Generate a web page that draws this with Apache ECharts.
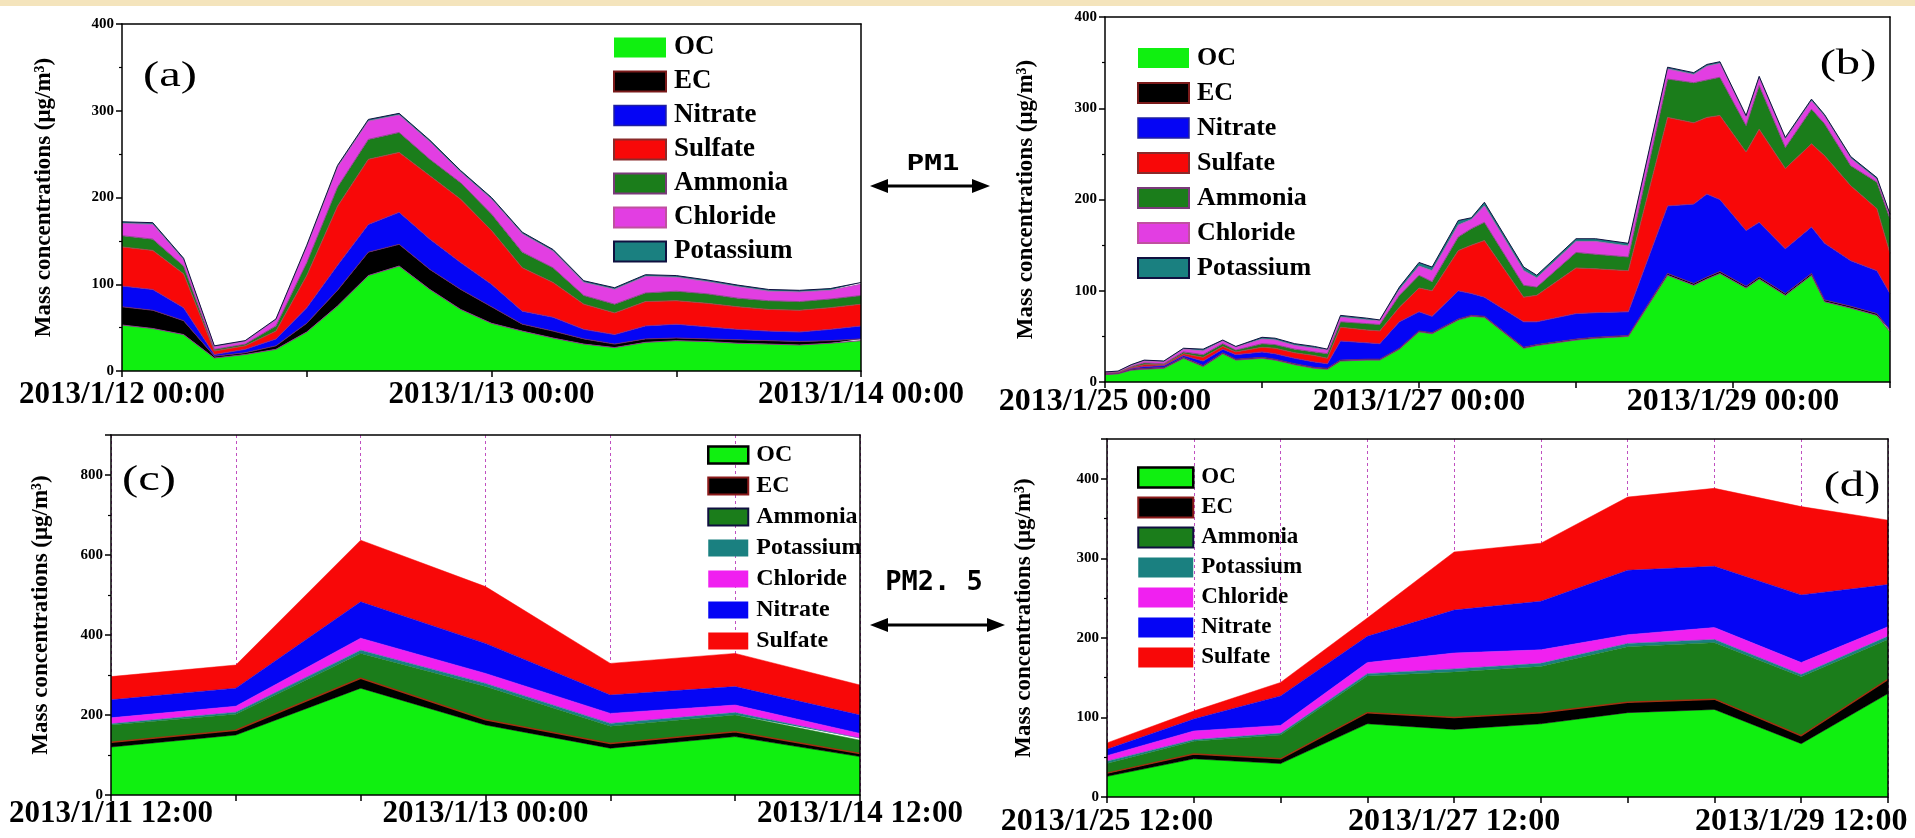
<!DOCTYPE html>
<html><head><meta charset="utf-8">
<script src="https://cdn.jsdelivr.net/npm/echarts/dist/echarts.min.js"></script>
<style>html,body{margin:0;padding:0;background:#fff}#c{width:1915px;height:838px}</style>
</head><body><div id="c"></div><script>
// ---------- DATA ----------
const namesPM1  = ['OC','EC','Nitrate','Sulfate','Ammonia','Chloride','Potassium'];
const namesPM25 = ['OC','EC','Ammonia','Potassium','Chloride','Nitrate','Sulfate'];

// (a) PM1, 2013/1/12 00:00 - 2013/1/14 00:00, hours from start
const hoursA = [0,2,4,6,8,10,12,14,16,18,20,22,24,26,28,30,32,34,36,38,40,42,44,46,48];
const a_OC        = [53,49,42,15,19,25,45,75,110,121,94,71,55,46,38,31,27,33,35,34,32,31,30,32,35];
const a_EC        = [21,21,16,2,2,4,10,18,27,25,23,23,19,8,8,6,4,4,3,3,4,4,4,3,2];
const a_Nitrate   = [24,24,15,2,4,8,18,29,32,37,35,31,26,15,16,11,11,15,16,14,12,11,11,13,15];
const a_Sulfate   = [45,45,39,4,4,9,37,68,75,69,73,73,62,50,40,29,25,28,27,27,26,25,25,25,25];
const a_Ammonia   = [13,13,9,2,2,6,15,22,23,23,19,19,19,18,17,10,10,10,11,11,10,10,10,10,10];
const a_Chloride  = [14,17,7,3,3,7,18,23,21,20,20,12,17,21,19,15,17,19,16,14,13,11,11,10,13];
const a_Potassium = [2,2,2,1,1,1,2,2,2,2,2,2,2,2,2,2,2,2,2,2,2,2,2,2,2];
const xTickLabelsA = ['2013/1/12 00:00','','2013/1/13 00:00','','2013/1/14 00:00']; // every 12 h

// (b) PM1, 2013/1/25 00:00 - 2013/1/30 00:00, hours from start
const hoursB = [0,2,4,6,9,12,15,18,20,24,26,29,32,34,36,40,42,45,48,50,54,56,58,64,66,72,75,80,86,90,92,94,98,100,104,108,110,114,118,120];
const b_OC        = [8,9,13,14,15,26,17,31,24,26,24,19,15,14,23,24,24,36,55,53,68,72,71,37,40,46,48,50,117,106,113,119,103,113,95,117,88,81,73,55];
const b_EC        = [1,0.5,1,1,1,1,1,1,1,1,1,1,1,1,1,1,1,1,1,1,1,1,1,1,1,1,1,1,2,2,2,2,2,2,2,2,2,2,2,2];
const b_Nitrate   = [0.5,0.5,1,2,2,2,5,4,5,6,6,6,6,5,21,18,17,29,21,18,31,24,21,28,25,28,27,26,74,87,91,79,61,60,49,51,62,50,47,40];
const b_Sulfate   = [0.5,0.5,1,2,1,2,4,3,3,5,6,6,7,6,15,14,14,16,26,28,44,53,62,27,29,50,48,45,97,89,84,92,86,102,88,91,96,82,68,44];
const b_Ammonia   = [0.5,0.5,1,2,1,2,3,3,2,4,4,4,4,5,6,7,7,13,14,10,15,18,20,13,9,17,16,15,42,44,41,42,29,48,23,38,35,22,29,38];
const b_Chloride  = [0.5,0.5,1,2,2,3,4,3,3,5,5,4,4,4,5,4,4,6,10,12,13,10,18,16,10,12,14,12,11,9,15,15,9,8,9,9,8,8,3,4];
const b_Potassium = [0,0.5,1,1,1,1,2,1,1,2,2,2,2,1,2,2,1,3,4,4,5,2,4,4,3,3,3,3,2,2,2,2,2,2,2,2,2,2,2,1];
const xTickLabelsB = ['2013/1/25 00:00','','2013/1/27 00:00','','2013/1/29 00:00','']; // every 24 h

// (c) PM2.5, 12-hourly
const timesC = ['2013/1/11 12:00','2013/1/12 00:00','2013/1/12 12:00','2013/1/13 00:00','2013/1/13 12:00','2013/1/14 00:00','2013/1/14 12:00'];
const c_OC        = [120,150,267,175,117,146,96];
const c_EC        = [12,12,25,13,12,12,8];
const c_Ammonia   = [43,40,62,83,43,42,33];
const c_Potassium = [3,5,8,8,7,6,5];
const c_Chloride  = [15,15,30,25,25,19,12];
const c_Nitrate   = [45,45,91,75,46,46,46];
const c_Sulfate   = [58,58,154,142,79,83,75];
const xTickLabelsC = ['2013/1/11 12:00','','','2013/1/13 00:00','','','2013/1/14 12:00'];

// (d) PM2.5, 12-hourly
const timesD = ['2013/1/25 12:00','2013/1/26 00:00','2013/1/26 12:00','2013/1/27 00:00','2013/1/27 12:00','2013/1/28 00:00','2013/1/28 12:00','2013/1/29 00:00','2013/1/29 12:00','2013/1/30 00:00'];
const d_OC        = [26,48,42,92,85,92,106,110,67,130];
const d_EC        = [4,6,6,14,15,14,13,13,10,18];
const d_Ammonia   = [12,16,30,46,57,58,70,71,74,50];
const d_Potassium = [3,2,2,3,4,4,4,4,3,4];
const d_Chloride  = [7,11,10,14,20,17,11,15,15,12];
const d_Nitrate   = [8,15,37,33,54,61,81,77,85,53];
const d_Sulfate   = [8,10,17,23,73,73,92,98,111,81];
const xTickLabelsD = ['2013/1/25 12:00','','','','2013/1/27 12:00','','','','2013/1/29 12:00',''];

const yTitle = 'Mass concentrations (μg/m³)';

// ---------- STYLE ----------
const FONT = 'Liberation Serif';
const HOUR = 3600000;
const T0A = Date.UTC(2013,0,12,0,0);
const T0B = Date.UTC(2013,0,25,0,0);
const FILL = {OC:'#10f010', EC:'#000000', Nitrate:'#0505f5', Sulfate:'#f80808', Ammonia:'#1b7d1b', Chloride:'#f020f0', Potassium:'#1a8080'};
const FILL_AB = Object.assign({}, FILL, {Chloride:'#e23ee2'});
const EDGE_AB = {OC:'#8a3a8a', EC:'#6a2a6a', Nitrate:'#8a2a8a', Sulfate:'#a04a4a', Ammonia:'#8a4a8a', Chloride:'#b860b8', Potassium:'#101040'};
const EDGE_CD = {OC:'#000000', EC:'#a03010', Ammonia:'#1b7d1b', Potassium:'#1a8080', Chloride:'#f020f0', Nitrate:'#0505f5', Sulfate:'#f80808'};
const LEG_AB = {OC:['#10f010',0], EC:['#7a1a1a',2], Nitrate:['#2020a0',1.5], Sulfate:['#8a2a2a',2], Ammonia:['#7a3a7a',2], Chloride:['#c050a0',2], Potassium:['#101040',2]};
const LEG_CD = {OC:['#000000',2.5], EC:['#8a1a1a',2], Ammonia:['#101040',2], Potassium:['#1a8080',0], Chloride:['#f020f0',0], Nitrate:['#0505f5',0], Sulfate:['#f80808',0]};
const AX = {color:'#000', width:1.5};

function areaSeries(name, values, g, hours, t0, fills, edge, ew) {
  return {type:'line', name, xAxisIndex:g, yAxisIndex:g, stack:'s'+g,
    data: hours ? values.map((v,i)=>[t0 + hours[i]*HOUR, v]) : values,
    symbol:'none', showSymbol:false, smooth:false, silent:true,
    lineStyle:{color:edge, width:ew}, areaStyle:{color:fills[name], opacity:1},
    itemStyle:{color:fills[name]}, emphasis:{disabled:true}, z:2};
}
function xTimeHidden(g, t0, hours) {
  return {gridIndex:g, type:'time', position:'bottom', min:t0, max:t0 + hours*HOUR, show:false,
    axisLine:{show:false}, axisTick:{show:false}, axisLabel:{show:false}, splitLine:{show:false}};
}
function xLabelValue(g, max, interval, labels, fs, margin) {
  return {gridIndex:g, type:'value', position:'bottom', min:0, max, interval, z:10,
    axisLine:{show:true, onZero:false, lineStyle:AX}, axisTick:{show:true, length:6, lineStyle:AX},
    splitLine:{show:false},
    axisLabel:{show:true, margin, color:'#000', fontFamily:FONT, fontWeight:'bold', fontSize:fs,
      showMinLabel:true, showMaxLabel:true, formatter: v => labels[Math.round(v/interval)] || ''}};
}
function xMainCat(g, cats, labels, fs, margin) {
  return {gridIndex:g, type:'category', position:'bottom', data:cats, boundaryGap:false, z:10,
    axisLine:{show:true, onZero:false, lineStyle:AX}, axisTick:{show:true, length:6, interval:0, lineStyle:AX},
    splitLine:{show:false},
    axisLabel:{show:true, interval:0, margin, color:'#000', fontFamily:FONT, fontWeight:'bold', fontSize:fs,
      formatter:(v,i)=>labels[i]}};
}
function xTopValue(g, max) {
  return {gridIndex:g, type:'value', position:'top', min:0, max, z:10,
    axisLine:{show:true, onZero:false, lineStyle:AX}, axisTick:{show:false}, axisLabel:{show:false}, splitLine:{show:false}};
}
function xTopCat(g, cats) {
  return {gridIndex:g, type:'category', position:'top', data:cats, boundaryGap:false, z:1,
    axisLine:{show:true, onZero:false, lineStyle:AX}, axisTick:{show:false}, axisLabel:{show:false},
    splitLine:{show:true, interval:0, lineStyle:{color:'#c050c0', type:[3,3], width:1}}};
}
function yMain(g, max, interval, labelMax, nameGap) {
  return {gridIndex:g, type:'value', position:'left', min:0, max, interval, z:10,
    axisLine:{show:true, onZero:false, lineStyle:AX}, axisTick:{show:true, length:6, lineStyle:AX},
    minorTick:{show:true, splitNumber:2, length:3, lineStyle:{color:'#000', width:1.2}},
    splitLine:{show:false}, minorSplitLine:{show:false},
    axisLabel:{margin:8, color:'#000', fontFamily:FONT, fontWeight:'bold', fontSize:15,
      formatter: v => v > labelMax ? '' : String(v)},
    name: yTitle, nameLocation:'middle', nameGap,
    nameTextStyle:{fontFamily:FONT, fontWeight:'bold', fontSize:23, color:'#000'}};
}
function yRight(g, max) {
  return {gridIndex:g, type:'value', position:'right', min:0, max, z:10,
    axisLine:{show:true, onZero:false, lineStyle:AX}, axisTick:{show:false}, axisLabel:{show:false}, splitLine:{show:false}};
}
function legendCfg(left, top, names, iw, ih, gap, fs, fills, styles) {
  return {orient:'vertical', left, top, padding:0, itemWidth:iw, itemHeight:ih, itemGap:gap, icon:'rect',
    selectedMode:false, z:20,
    textStyle:{fontFamily:FONT, fontWeight:'bold', fontSize:fs, color:'#000', padding:[0,0,0,3]},
    data: names.map(n => ({name:n, icon:'rect', itemStyle:{color:fills[n], borderColor:styles[n][0], borderWidth:styles[n][1]}}))};
}

const valsA = {OC:a_OC, EC:a_EC, Nitrate:a_Nitrate, Sulfate:a_Sulfate, Ammonia:a_Ammonia, Chloride:a_Chloride, Potassium:a_Potassium};
const valsB = {OC:b_OC, EC:b_EC, Nitrate:b_Nitrate, Sulfate:b_Sulfate, Ammonia:b_Ammonia, Chloride:b_Chloride, Potassium:b_Potassium};
const valsC = {OC:c_OC, EC:c_EC, Ammonia:c_Ammonia, Potassium:c_Potassium, Chloride:c_Chloride, Nitrate:c_Nitrate, Sulfate:c_Sulfate};
const valsD = {OC:d_OC, EC:d_EC, Ammonia:d_Ammonia, Potassium:d_Potassium, Chloride:d_Chloride, Nitrate:d_Nitrate, Sulfate:d_Sulfate};

const series = [];
namesPM1.forEach(n => series.push(areaSeries(n, valsA[n], 0, hoursA, T0A, FILL_AB, EDGE_AB[n], 1)));
namesPM1.forEach(n => series.push(areaSeries(n, valsB[n], 1, hoursB, T0B, FILL_AB, EDGE_AB[n], 1)));
namesPM25.forEach(n => series.push(areaSeries(n, valsC[n], 2, null, 0, FILL, EDGE_CD[n], n==='EC'?1.5:0.5)));
namesPM25.forEach(n => series.push(areaSeries(n, valsD[n], 3, null, 0, FILL, EDGE_CD[n], n==='EC'?1.5:0.5)));

function txt(x, y, text, font, sx) {
  return {type:'text', x, y, scaleX:sx||1, z:100, silent:true,
    style:{text, font, fill:'#000', align:'center', verticalAlign:'middle', textAlign:'center', textVerticalAlign:'middle'}};
}
function arrow(x1, x2, y) {
  return [
    {type:'line', z:100, silent:true, shape:{x1:x1+14, y1:y, x2:x2-14, y2:y}, style:{stroke:'#000', lineWidth:3}},
    {type:'polygon', z:100, silent:true, shape:{points:[[x1,y],[x1+18,y-7],[x1+18,y+7]]}, style:{fill:'#000'}},
    {type:'polygon', z:100, silent:true, shape:{points:[[x2,y],[x2-18,y-7],[x2-18,y+7]]}, style:{fill:'#000'}}
  ];
}

const option = {
  animation:false,
  backgroundColor:'#ffffff',
  grid:[
    {left:122, top:24, width:739, height:347},
    {left:1105, top:17, width:785, height:365},
    {left:111, top:435, width:749, height:360},
    {left:1107, top:439, width:781, height:359}
  ],
  xAxis:[
    xTimeHidden(0, T0A, 48),
    xTimeHidden(1, T0B, 120),
    xMainCat(2, timesC, xTickLabelsC, 31, 3),
    xMainCat(3, timesD, xTickLabelsD, 32, 9),
    xLabelValue(0, 48, 12, xTickLabelsA, 31, 8),
    xLabelValue(1, 120, 24, xTickLabelsB, 32, 4),
    xTopValue(0, 48), xTopValue(1, 120), xTopCat(2, timesC), xTopCat(3, timesD)
  ],
  yAxis:[
    yMain(0, 400, 100, 400, 66),
    yMain(1, 400, 100, 400, 67),
    yMain(2, 900, 200, 800, 58),
    yMain(3, 450, 100, 400, 71),
    yRight(0, 400), yRight(1, 400), yRight(2, 900), yRight(3, 450)
  ],
  legend:[
    legendCfg(613, 34, namesPM1, 52, 20, 7, 27, FILL_AB, LEG_AB),
    legendCfg(1137, 45, namesPM1, 51, 20, 9, 26, FILL_AB, LEG_AB),
    legendCfg(707, 443, namesPM25, 40, 17, 7, 24, FILL, LEG_CD),
    legendCfg(1137, 466, namesPM25, 55, 20, 7, 23, FILL, LEG_CD)
  ],
  series,
  graphic:[
    {type:'rect', z:100, silent:true, shape:{x:0, y:0, width:1915, height:6}, style:{fill:'#f4e4bc'}},
    txt(170, 77, '(a)', '36px "Liberation Serif"', 1.35),
    txt(1848, 65, '(b)', '36px "Liberation Serif"', 1.35),
    txt(149, 481, '(c)', '36px "Liberation Serif"', 1.35),
    txt(1852, 487, '(d)', '36px "Liberation Serif"', 1.35),
    txt(933, 165, 'PM1', 'bold 21px "DejaVu Sans Mono"', 1.4),
    txt(934, 583, 'PM2. 5', 'bold 27px "DejaVu Sans Mono"', 1),
    ...arrow(870, 990, 186),
    ...arrow(870, 1005, 625)
  ]
};
const chart = echarts.init(document.getElementById('c'), null, {renderer:'canvas'});
chart.setOption(option);
</script></body></html>
